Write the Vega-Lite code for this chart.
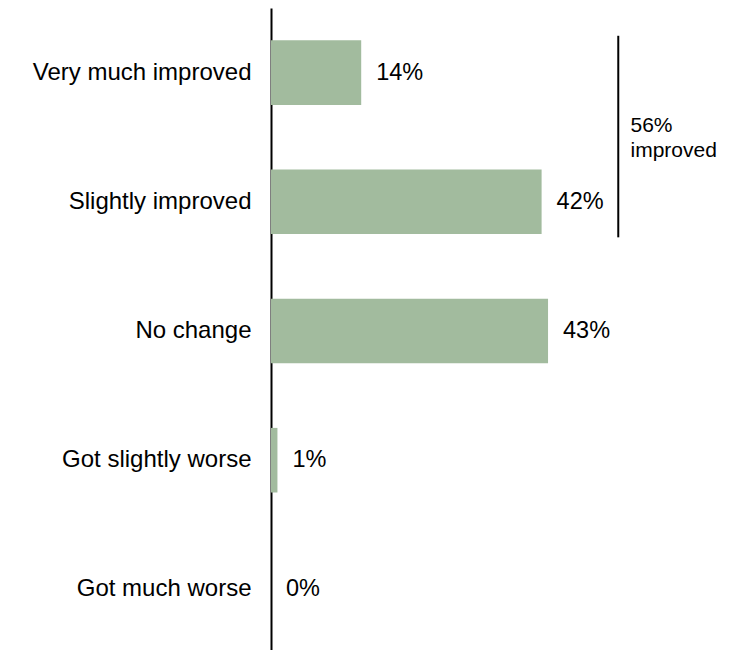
{
  "$schema": "https://vega.github.io/schema/vega-lite/v6.json",
  "autosize": "none",
  "width": 451,
  "height": 646,
  "padding": {"left": 271, "top": 8, "right": 22, "bottom": 0},
  "background": "white",
  "config": {"view": {"stroke": null}, "font": "Liberation Sans"},
  "datasets": {
    "bars": [
      {"category": "Very much improved", "pct": 14, "label": "14%"},
      {"category": "Slightly improved", "pct": 42, "label": "42%"},
      {"category": "No change", "pct": 43, "label": "43%"},
      {"category": "Got slightly worse", "pct": 1, "label": "1%"},
      {"category": "Got much worse", "pct": 0, "label": "0%"}
    ],
    "bracket": [
      {"top": "Very much improved", "bottom": "Slightly improved", "x": 53.9, "tx": 55.8, "text": "56%\nimproved"}
    ]
  },
  "layer": [
    {
      "data": {"name": "bars"},
      "mark": {"type": "bar", "color": "#a2bb9e"},
      "encoding": {
        "y": {
          "field": "category", "type": "nominal",
          "scale": {"domain": ["Very much improved", "Slightly improved", "No change", "Got slightly worse", "Got much worse"], "paddingInner": 0.5, "paddingOuter": 0.25},
          "axis": {"title": null, "ticks": false, "domainColor": "#000", "domainWidth": 2, "labelFontSize": 24, "labelColor": "#000", "labelPadding": 20, "labelLimit": 300}
        },
        "x": {"field": "pct", "type": "quantitative", "scale": {"domain": [0, 70]}, "axis": null}
      }
    },
    {
      "data": {"name": "bars"},
      "mark": {"type": "text", "align": "left", "baseline": "middle", "dx": 15, "fontSize": 23.5, "color": "#000"},
      "encoding": {
        "y": {"field": "category", "type": "nominal"},
        "x": {"field": "pct", "type": "quantitative"},
        "text": {"field": "label"}
      }
    },
    {
      "data": {"name": "bracket"},
      "mark": {"type": "rule", "color": "#000", "strokeWidth": 2},
      "encoding": {
        "y": {"field": "top", "type": "nominal", "bandPosition": -0.07},
        "y2": {"field": "bottom", "bandPosition": 1.05},
        "x": {"field": "x", "type": "quantitative"}
      }
    },
    {
      "data": {"name": "bracket"},
      "mark": {"type": "text", "align": "left", "baseline": "middle", "lineBreak": "\n", "lineHeight": 25, "fontSize": 21, "color": "#000"},
      "encoding": {
        "y": {"field": "top", "type": "nominal", "bandPosition": 1.33},
        "x": {"field": "tx", "type": "quantitative"},
        "text": {"field": "text"}
      }
    }
  ]
}
